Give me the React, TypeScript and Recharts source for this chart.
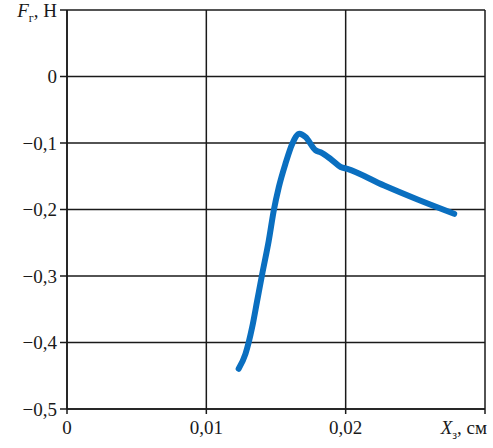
import React from "react";
import { LineChart, Line, XAxis, YAxis, CartesianGrid } from "recharts";

// X_з, см
const xValues = [
  0.01232, 0.01281, 0.01329, 0.01365, 0.01401, 0.01448, 0.01484, 0.0152,
  0.01568, 0.01617, 0.01669, 0.01712, 0.01784, 0.0182, 0.01892, 0.01964,
  0.02012, 0.02276, 0.02516, 0.02779,
];
// F_г, Н
const fValues = [
  -0.4395, -0.417, -0.377, -0.337, -0.297, -0.247, -0.2015, -0.1665, -0.131,
  -0.101, -0.086, -0.091, -0.111, -0.114, -0.124, -0.136, -0.139, -0.164,
  -0.185, -0.2065,
];
const xTicks = [0, 0.01, 0.02, 0.03];
const yTicks = [-0.5, -0.4, -0.3, -0.2, -0.1, 0, 0.1];

const FONT = "'Liberation Serif', 'Times New Roman', serif";

const fmt = (v: number) =>
  v.toString().replace(".", ",").replace("-", "\u2212");

const YTick = (props: any) => {
  const { x, y, payload } = props;
  if (payload.value === 0.1) {
    return (
      <text x={x} y={y} dy="0.35em" textAnchor="end" fontFamily={FONT} fontSize={19} fill="#1a1a1a">
        <tspan fontStyle="italic">F</tspan>
        <tspan fontSize={12} dy={5}>г</tspan>
        <tspan dy={-5}>, Н</tspan>
      </text>
    );
  }
  return (
    <text x={x} y={y} dy="0.355em" textAnchor="end" fontFamily={FONT} fontSize={19} fill="#1a1a1a">
      {fmt(payload.value)}
    </text>
  );
};

const XTick = (props: any) => {
  const { x, y, payload } = props;
  if (payload.value === 0.03) {
    return (
      <text x={x + 2} y={y} dy="0.85em" textAnchor="end" fontFamily={FONT} fontSize={19} fill="#1a1a1a">
        <tspan fontStyle="italic">X</tspan>
        <tspan fontSize={12} dy={5}>з</tspan>
        <tspan dy={-5}>, см</tspan>
      </text>
    );
  }
  return (
    <text x={x} y={y} dy="0.85em" textAnchor="middle" fontFamily={FONT} fontSize={19} fill="#1a1a1a">
      {fmt(payload.value)}
    </text>
  );
};

const App: React.FC = () => {
  const data = xValues.map((x, i) => ({ x, f: fValues[i] }));

  return (
    <div style={{ position: "absolute", left: 0, top: 0, background: "#fff" }}>
      <LineChart
        width={493}
        height={448}
        data={data}
        margin={{ top: 10, right: 8, bottom: 9, left: 0 }}
      >
        <CartesianGrid
          stroke="#1a1a1a"
          strokeWidth={1.5}
          horizontalValues={yTicks}
          verticalValues={xTicks}
        />
        <XAxis
          dataKey="x"
          type="number"
          domain={[0, 0.03]}
          ticks={xTicks}
          height={30}
          tickSize={5}
          tickMargin={4}
          stroke="#1a1a1a"
          strokeWidth={1.5}
          tick={<XTick />}
          interval={0}
        />
        <YAxis
          type="number"
          domain={[-0.5, 0.1]}
          ticks={yTicks}
          width={67}
          tickSize={7}
          tickMargin={3}
          stroke="#1a1a1a"
          strokeWidth={1.5}
          tick={<YTick />}
          interval={0}
        />
        <Line
          dataKey="f"
          type="monotone"
          stroke="#0a6fc0"
          strokeWidth={6}
          strokeLinecap="round"
          strokeLinejoin="round"
          dot={false}
          isAnimationActive={false}
        />
      </LineChart>
    </div>
  );
};

export default App;
